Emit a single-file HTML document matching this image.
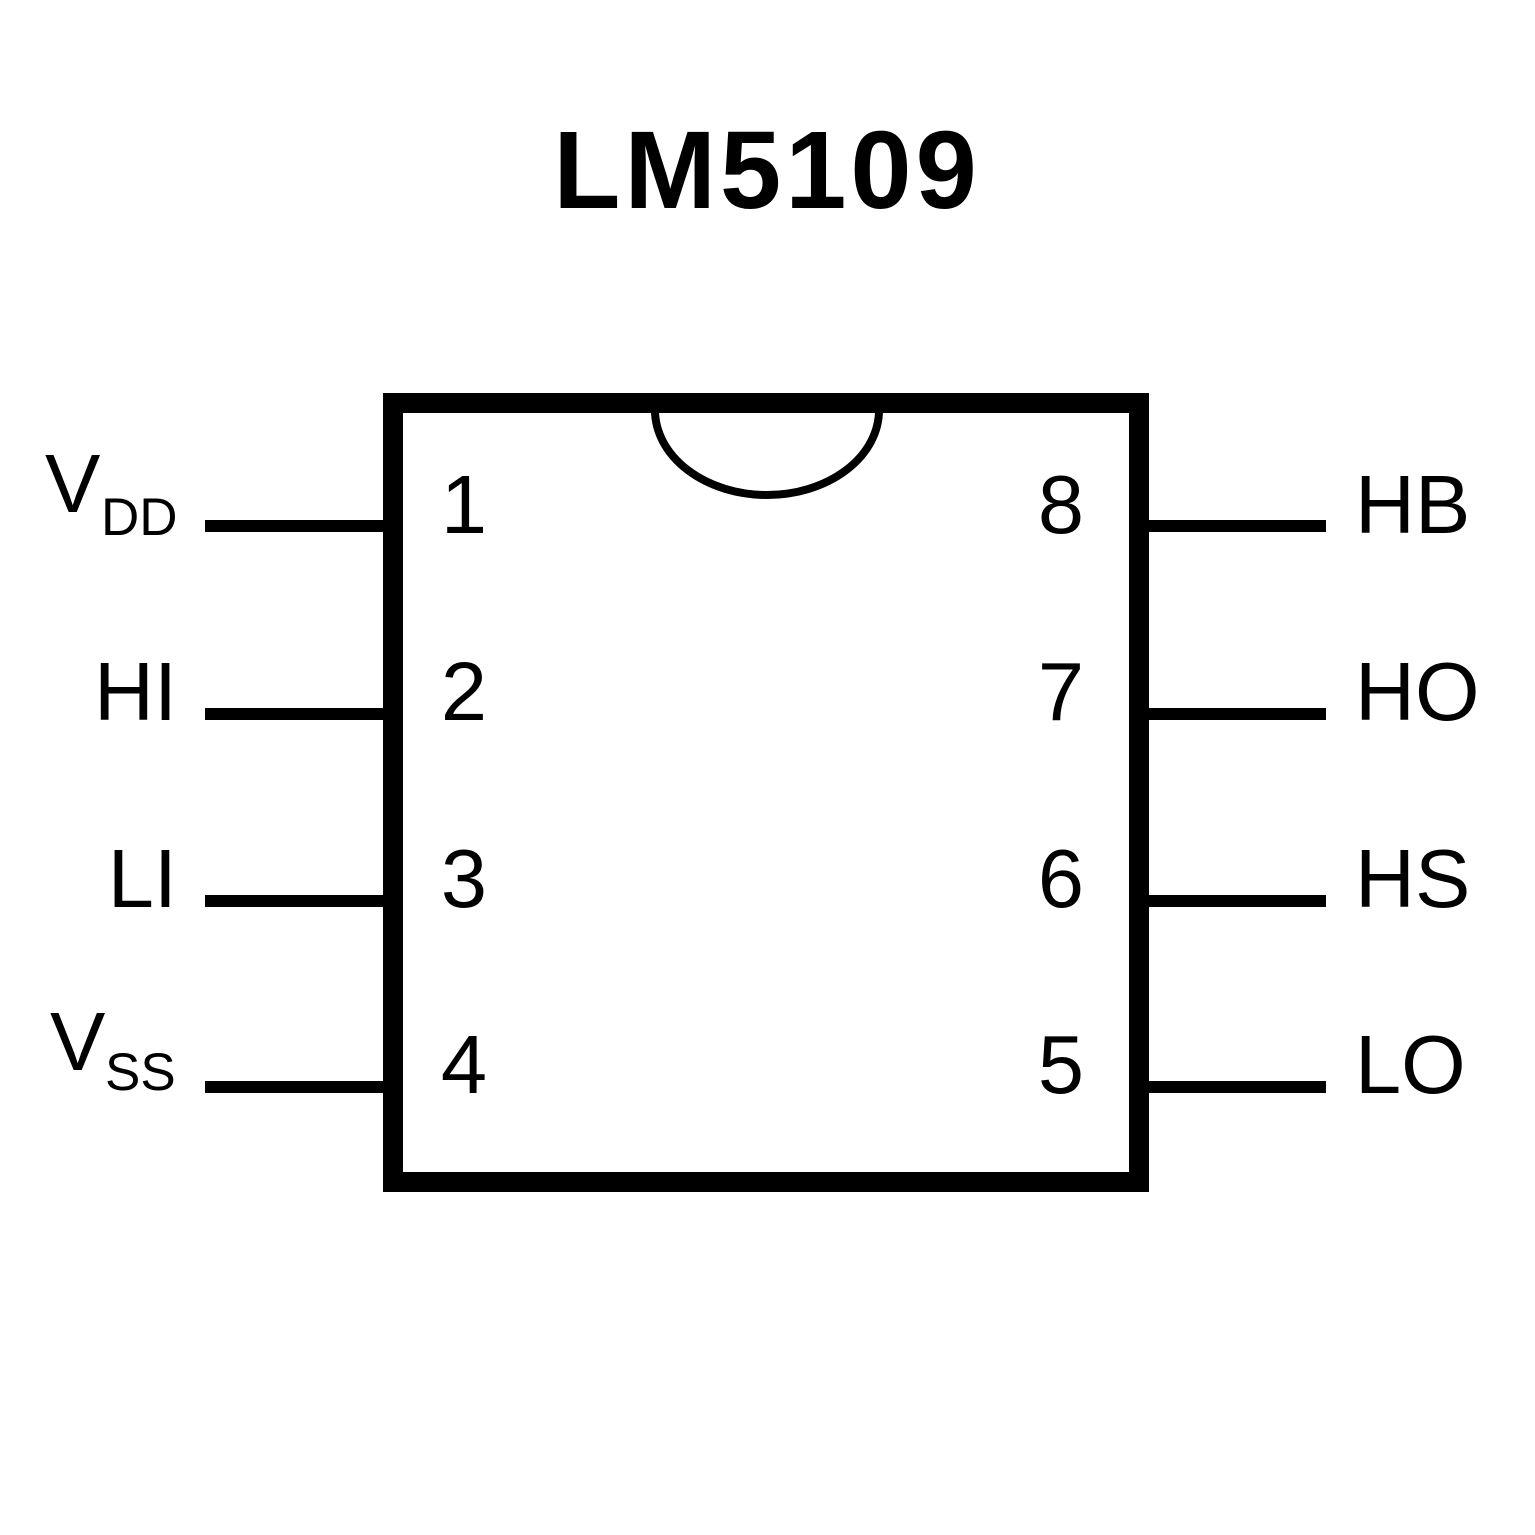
<!DOCTYPE html>
<html><head><meta charset="utf-8"><style>html,body{margin:0;padding:0;background:#fff}svg{display:block}</style></head>
<body>
<svg width="1535" height="1535" viewBox="0 0 1535 1535" xmlns="http://www.w3.org/2000/svg" font-family="Liberation Sans, Arial, sans-serif">
<rect width="1535" height="1535" fill="#fff"/>
<text x="767" y="208" text-anchor="middle" font-size="110" font-weight="bold" letter-spacing="4">LM5109</text>
<rect x="393" y="403" width="746" height="779" fill="none" stroke="#000" stroke-width="20"/>
<path d="M655 410 A112 85 0 0 0 879 410" fill="none" stroke="#000" stroke-width="8"/>
<g stroke="#000" stroke-width="12">
<line x1="205" y1="526" x2="386" y2="526"/>
<line x1="205" y1="714" x2="386" y2="714"/>
<line x1="205" y1="901" x2="386" y2="901"/>
<line x1="205" y1="1087" x2="386" y2="1087"/>
<line x1="1146" y1="526" x2="1326" y2="526"/>
<line x1="1146" y1="714" x2="1326" y2="714"/>
<line x1="1146" y1="901" x2="1326" y2="901"/>
<line x1="1146" y1="1087" x2="1326" y2="1087"/>
</g>
<g font-size="83" text-anchor="middle">
<text x="464" y="533">1</text><text x="464" y="720">2</text><text x="464" y="907">3</text><text x="464" y="1093">4</text>
<text x="1061" y="533">8</text><text x="1061" y="720">7</text><text x="1061" y="907">6</text><text x="1061" y="1093">5</text>
</g>
<g font-size="83">
<text x="45" y="512">V</text><text x="101" y="535" font-size="53">DD</text>
<text x="177" y="720" text-anchor="end">HI</text>
<text x="177" y="907" text-anchor="end">LI</text>
<text x="50" y="1070">V</text><text x="105" y="1090" font-size="53">SS</text>
<text x="1355" y="533">HB</text>
<text x="1355" y="720">HO</text>
<text x="1355" y="907">HS</text>
<text x="1355" y="1093">LO</text>
</g>
</svg>
</body></html>
